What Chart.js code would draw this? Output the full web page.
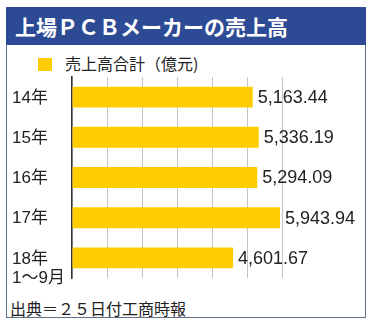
<!DOCTYPE html>
<html>
<head>
<meta charset="utf-8">
<script src="https://cdn.jsdelivr.net/npm/chart.js@4"></script>
<style>
  body { margin: 0; background: #fff; }
  #wrap { position: relative; width: 373px; height: 327px; overflow: hidden; }
  #frame { position: absolute; left: 6px; top: 7px; width: 358px; height: 309px; border: 1px solid #5f7088; }
  #title { position: absolute; left: 6px; top: 7px; width: 360px; height: 38px; background: #2d4b94;
           color: #fff; font: bold 21px "Noto Sans CJK JP", sans-serif; line-height: 38px; padding-left: 9px; box-sizing: border-box; }
  #legend { position: absolute; left: 38px; top: 53px; font: 16px "Noto Sans CJK JP", sans-serif; color: #222; line-height: 20px; }
  #legend span { display: inline-block; width: 14px; height: 13px; background: #ffcc00; vertical-align: -1px; margin-right: 13px; }
  #source { position: absolute; left: 10px; top: 297px; font: 16px "Noto Sans CJK JP", sans-serif; color: #222; line-height: 22px; }
  canvas { position: absolute; left: 0; top: 0; }
</style>
</head>
<body>
<div id="wrap">
  <div id="frame"></div>
  <div id="title">上場ＰＣＢメーカーの売上高</div>
  <div id="legend"><span></span>売上高合計（億元)</div>
  <div id="source">出典＝２５日付工商時報</div>
  <canvas id="chart" width="373" height="327"></canvas>
</div>
<script>
// --- Data ---
const years = ["14年", "15年", "16年", "17年", ["18年", "1〜9月"]];
const sales = [5163.44, 5336.19, 5294.09, 5943.94, 4601.67];
const seriesName = "売上高合計（億元)";

const fmt = n => n.toLocaleString("en-US", { minimumFractionDigits: 2, maximumFractionDigits: 2 });

// --- Labels drawn next to bars / axis ---
const labelPlugin = {
  id: "labels",
  afterDatasetsDraw(chart) {
    const ctx = chart.ctx;
    const yScale = chart.scales.y;
    const meta = chart.getDatasetMeta(0);
    ctx.save();
    ctx.fillStyle = "#222";
    ctx.textBaseline = "middle";

    // category labels, left aligned, first line on the bar
    ctx.font = '17px "Liberation Sans", "Noto Sans CJK JP", sans-serif';
    ctx.textAlign = "left";
    years.forEach((lab, i) => {
      const y = yScale.getPixelForTick(i);
      const lines = Array.isArray(lab) ? lab : [lab];
      lines.forEach((t, j) => ctx.fillText(t, 12, y + 1 + j * 19));
    });

    // value labels
    ctx.font = '18px "Liberation Sans", sans-serif';
    meta.data.forEach((bar, i) => {
      ctx.fillText(fmt(sales[i]), bar.x + 5, bar.y + 1);
    });
    ctx.restore();
  }
};

new Chart(document.getElementById("chart"), {
  type: "bar",
  data: {
    labels: years,
    datasets: [{
      label: seriesName,
      data: sales,
      backgroundColor: "#ffcc00",
      borderWidth: 0,
      barPercentage: 0.52,
      categoryPercentage: 1
    }]
  },
  options: {
    indexAxis: "y",
    responsive: false,
    animation: false,
    layout: { padding: { left: 72, right: 91, top: 77, bottom: 49 } },
    plugins: { legend: { display: false }, tooltip: { enabled: false } },
    scales: {
      x: {
        min: 0, max: 6000,
        ticks: { display: false, stepSize: 1000 },
        grid: { color: "#c4c4c4", lineWidth: 1, drawTicks: false },
        border: { display: false }
      },
      y: {
        ticks: { display: false },
        grid: { color: "transparent", drawTicks: false },
        border: { display: true, color: "#333", width: 1.5 }
      }
    }
  },
  plugins: [labelPlugin]
});
</script>
</body>
</html>
